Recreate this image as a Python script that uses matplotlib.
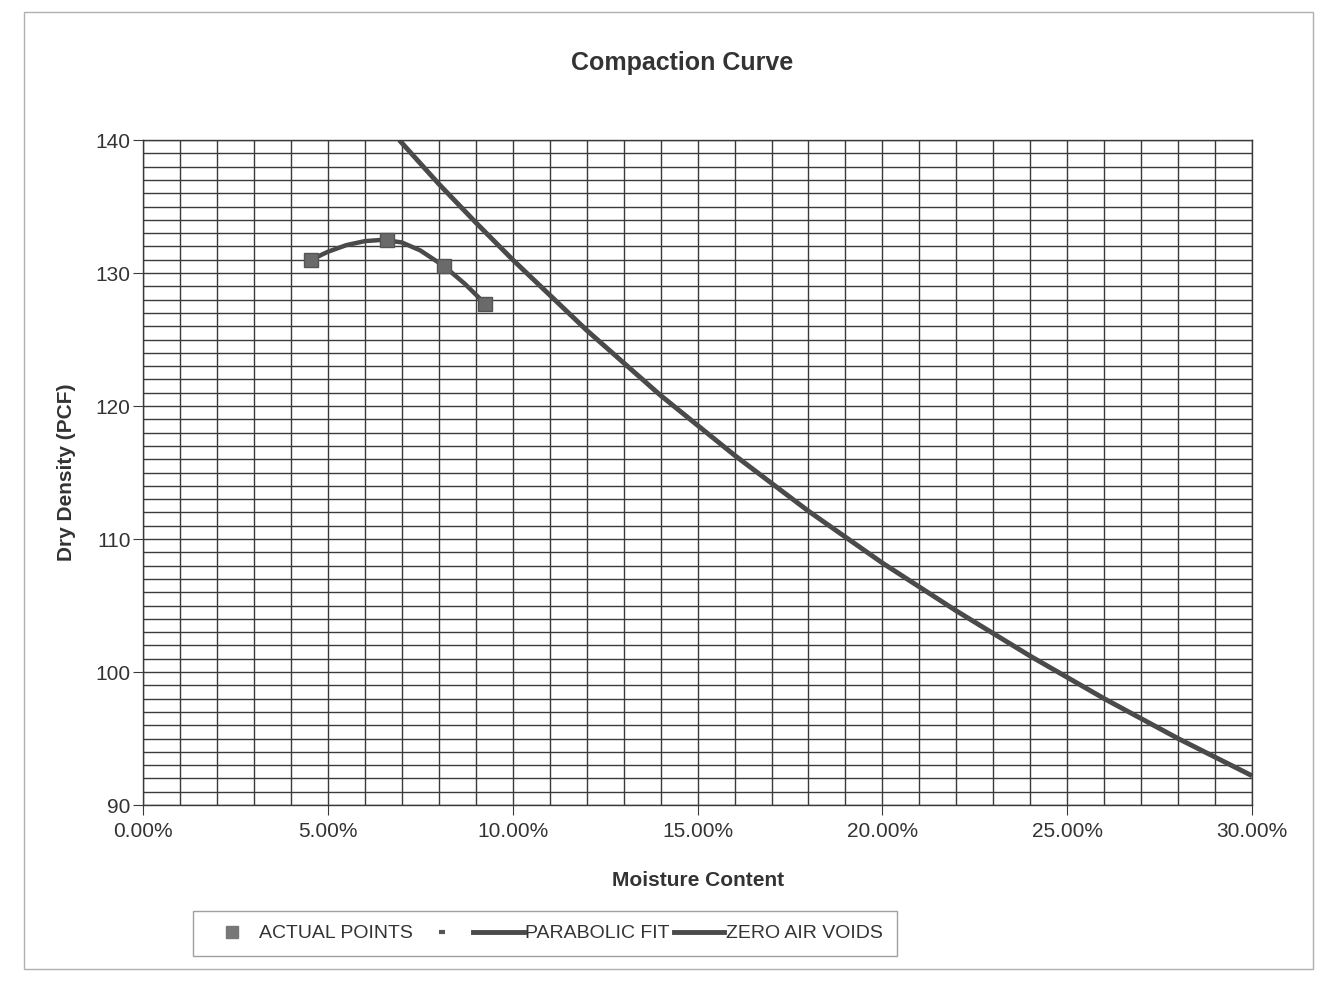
import numpy as np
import matplotlib.pyplot as plt
from matplotlib.lines import Line2D
from matplotlib.patches import Rectangle
from matplotlib.ticker import MultipleLocator, FuncFormatter

plt.rcParams['font.family'] = ['Liberation Sans', 'DejaVu Sans']

# moisture content (%) / dry density (pcf)
actual_w   = [4.55, 6.6, 8.15, 9.25]
actual_dd  = [131.0, 132.5, 130.5, 127.7]

fit_w      = [4.55, 5.0, 5.5, 6.0, 6.5, 7.0, 7.5, 8.15, 8.7, 9.25]
fit_dd     = [131.0, 131.6, 132.1, 132.4, 132.5, 132.3, 131.7, 130.5, 129.2, 127.7]

zav_w      = [6.93, 8.0, 9.0, 10.0, 12.0, 14.0, 16.0, 18.0, 20.0, 22.0, 24.0, 26.0, 28.0, 30.0]
zav_dd     = [140.0, 136.7, 133.8, 131.0, 125.7, 120.8, 116.3, 112.1, 108.2, 104.6, 101.2, 98.0, 95.0, 92.2]

grid_col = '#3a3a3a'
line_col = '#4a4a4a'
text_col = '#333333'

fig = plt.figure(figsize=(13.32, 9.89), dpi=100)
fig.patches.append(Rectangle((0.018, 0.02), 0.968, 0.968, transform=fig.transFigure,
                             fill=False, edgecolor='#b0b0b0', linewidth=1))

ax = fig.add_axes([0.1074, 0.186, 0.8326, 0.6724])
ax.set_xlim(0, 30)
ax.set_ylim(90, 140)

ax.xaxis.set_major_locator(MultipleLocator(5))
ax.xaxis.set_minor_locator(MultipleLocator(1))
ax.yaxis.set_major_locator(MultipleLocator(10))
ax.yaxis.set_minor_locator(MultipleLocator(1))
ax.grid(True, which='both', color=grid_col, linewidth=1.0)
ax.set_axisbelow(True)
ax.xaxis.set_major_formatter(FuncFormatter(lambda v, p: f"{v:.2f}%"))
ax.tick_params(axis='both', which='minor', length=0)
ax.tick_params(axis='x', which='major', length=7, pad=5, labelsize=15, color=grid_col, colors=text_col)
ax.tick_params(axis='y', which='major', length=7, pad=2, labelsize=15, color=grid_col, colors=text_col)
for s in ax.spines.values():
    s.set_color(grid_col)
    s.set_linewidth(1.0)

ax.plot(zav_w, zav_dd, color=line_col, linewidth=3.5, solid_capstyle='butt')
ax.plot(fit_w, fit_dd, color=line_col, linewidth=3.2)
ax.plot(actual_w, actual_dd, linestyle='none', marker='s', markersize=10,
        markerfacecolor='#6a6a6a', markeredgecolor='#555555')

fig.text(0.512, 0.936, 'Compaction Curve', ha='center', va='center',
         fontsize=18, fontweight='bold', color=text_col)
ax.set_ylabel('Dry Density (PCF)', fontsize=15, fontweight='bold', color=text_col, labelpad=14)
ax.set_xlabel('Moisture Content', fontsize=15, fontweight='bold', color=text_col, labelpad=22)

handles = [
    Line2D([], [], linestyle='none', marker='s', markersize=8, markerfacecolor='#777777', markeredgecolor='#777777'),
    Line2D([], [], linestyle='none', marker='_', markersize=5, markeredgewidth=3, color='#555555'),
    Line2D([], [], color=line_col, linewidth=3.5),
    Line2D([], [], color=line_col, linewidth=3.5),
]
labels = ['ACTUAL POINTS', '', 'PARABOLIC FIT', 'ZERO AIR VOIDS']
leg = fig.legend(handles, labels, loc='center', bbox_to_anchor=(0.409, 0.056), ncol=4,
                 fontsize=14, frameon=True, fancybox=False, edgecolor='#888888',
                 handlelength=2.6, handletextpad=0.1, columnspacing=0.2, borderpad=0.7)
leg.get_frame().set_linewidth(1.0)
for t in leg.get_texts():
    t.set_color(text_col)

fig.savefig('out.png', dpi=100)
